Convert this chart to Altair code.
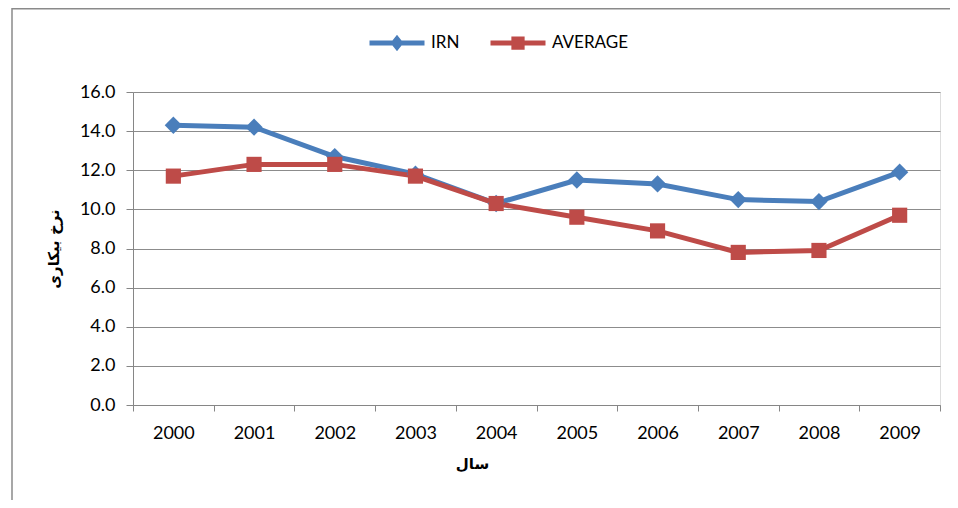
import altair as alt
import pandas as pd

years = [2000, 2001, 2002, 2003, 2004, 2005, 2006, 2007, 2008, 2009]
irn = [14.3, 14.2, 12.7, 11.8, 10.3, 11.5, 11.3, 10.5, 10.4, 11.9]
average = [11.7, 12.3, 12.3, 11.7, 10.3, 9.6, 8.9, 7.8, 7.9, 9.7]
series_names = ["IRN", "AVERAGE"]
series_colors = ["#4A7EBB", "#BE4B48"]
series_markers = ["diamond", "square"]
marker_sizes = [300, 230]
y_ticks = [0.0, 2.0, 4.0, 6.0, 8.0, 10.0, 12.0, 14.0, 16.0]
x_tick_bounds = [y - 0.5 for y in years] + [years[-1] + 0.5]

rows = []
for s, vals in zip(series_names, [irn, average]):
    for yr, v in zip(years, vals):
        rows.append({"year": yr, "series": s, "value": v})
df = pd.DataFrame(rows)

PW, PH = 807, 313
FONT = "Lato"

x_enc = alt.X(
    "year:Q",
    scale=alt.Scale(domain=[years[0] - 0.5, years[-1] + 0.5], nice=False, zero=False),
    axis=alt.Axis(
        values=x_tick_bounds,
        labelExpr="datum.value < %d ? format(datum.value + 0.5, 'd') : ''" % years[-1],
        labelOffset=PW / len(years) / 2,
        tickSize=6,
        tickColor="#868686",
        domainColor="#868686",
        grid=False,
        labelPadding=13,
        labelFlush=False,
        labelOverlap=False,
        labelFont=FONT,
        labelFontSize=18,
        labelColor="#000000",
        title="سال",
        titleFont="DejaVu Sans",
        titleFontWeight="bold",
        titleFontSize=15,
        titleColor="#000000",
        titlePadding=14,
        titleX=339,
    ),
)
y_enc = alt.Y(
    "value:Q",
    scale=alt.Scale(domain=[0, 16], nice=False),
    axis=alt.Axis(
        values=y_ticks,
        format=".1f",
        tickSize=7,
        tickColor="#868686",
        domainColor="#868686",
        gridColor="#8c8c8c",
        labelPadding=11,
        labelOverlap=False,
        labelFont=FONT,
        labelFontSize=18,
        labelColor="#000000",
        title="نرخ بیکاری",
        titleFont="DejaVu Sans",
        titleFontWeight="bold",
        titleFontSize=15,
        titleColor="#000000",
        titlePadding=18,
    ),
)

base = alt.Chart(df)

series_layers = []
for name, col in zip(series_names, series_colors):
    series_layers.append(
        base.transform_filter(alt.datum.series == name).mark_line(
            strokeWidth=5, color=col
        ).encode(x=x_enc, y=y_enc)
    )
for name, col, shp, sz in zip(series_names, series_colors, series_markers, marker_sizes):
    series_layers.append(
        base.transform_filter(alt.datum.series == name).mark_point(
            filled=True, opacity=1, shape=shp, size=sz, color=col
        ).encode(x=x_enc, y=y_enc)
    )

legend_paths = [
    "M-1,0L1,0M0,-0.15L0.12,0L0,0.15L-0.12,0Z",
    "M-1,0L1,0M-0.15,-0.15L0.15,-0.15L0.15,0.15L-0.15,0.15Z",
]

leg = alt.Legend(title=None, orient="none", direction="horizontal",
                 legendX=234, legendY=-79, symbolSize=3025,
                 symbolStrokeWidth=5, labelFont=FONT, labelFontSize=17,
                 labelColor="#000000", labelOffset=4, columnPadding=20,
                 gridAlign="none", padding=0, symbolOpacity=1)

legend_layer = base.transform_filter("datum.value < -100").mark_point(
    filled=True, strokeWidth=5, opacity=1
).encode(
    x=x_enc, y=y_enc,
    color=alt.Color("series:N", scale=alt.Scale(domain=series_names, range=series_colors), legend=leg),
    stroke=alt.Stroke("series:N", scale=alt.Scale(domain=series_names, range=series_colors), legend=leg),
    shape=alt.Shape("series:N", scale=alt.Scale(domain=series_names, range=legend_paths), legend=leg),
)

frame = alt.Chart(pd.DataFrame({"f": [0]})).mark_rect(
    fill=None, stroke="#8a8a8a", strokeWidth=1.5
).encode(x=alt.value(-121), y=alt.value(-83.3), x2=alt.value(1000), y2=alt.value(560))

chart = alt.layer(frame, *series_layers, legend_layer).properties(
    width=PW, height=PH,
    padding={"left": 125, "top": 84, "right": 10, "bottom": 95},
    autosize=alt.AutoSizeParams(type="none"),
).configure_view(stroke=None).configure(background="#ffffff")

chart.save("out.html", embed_options={"renderer": "svg", "actions": False})
